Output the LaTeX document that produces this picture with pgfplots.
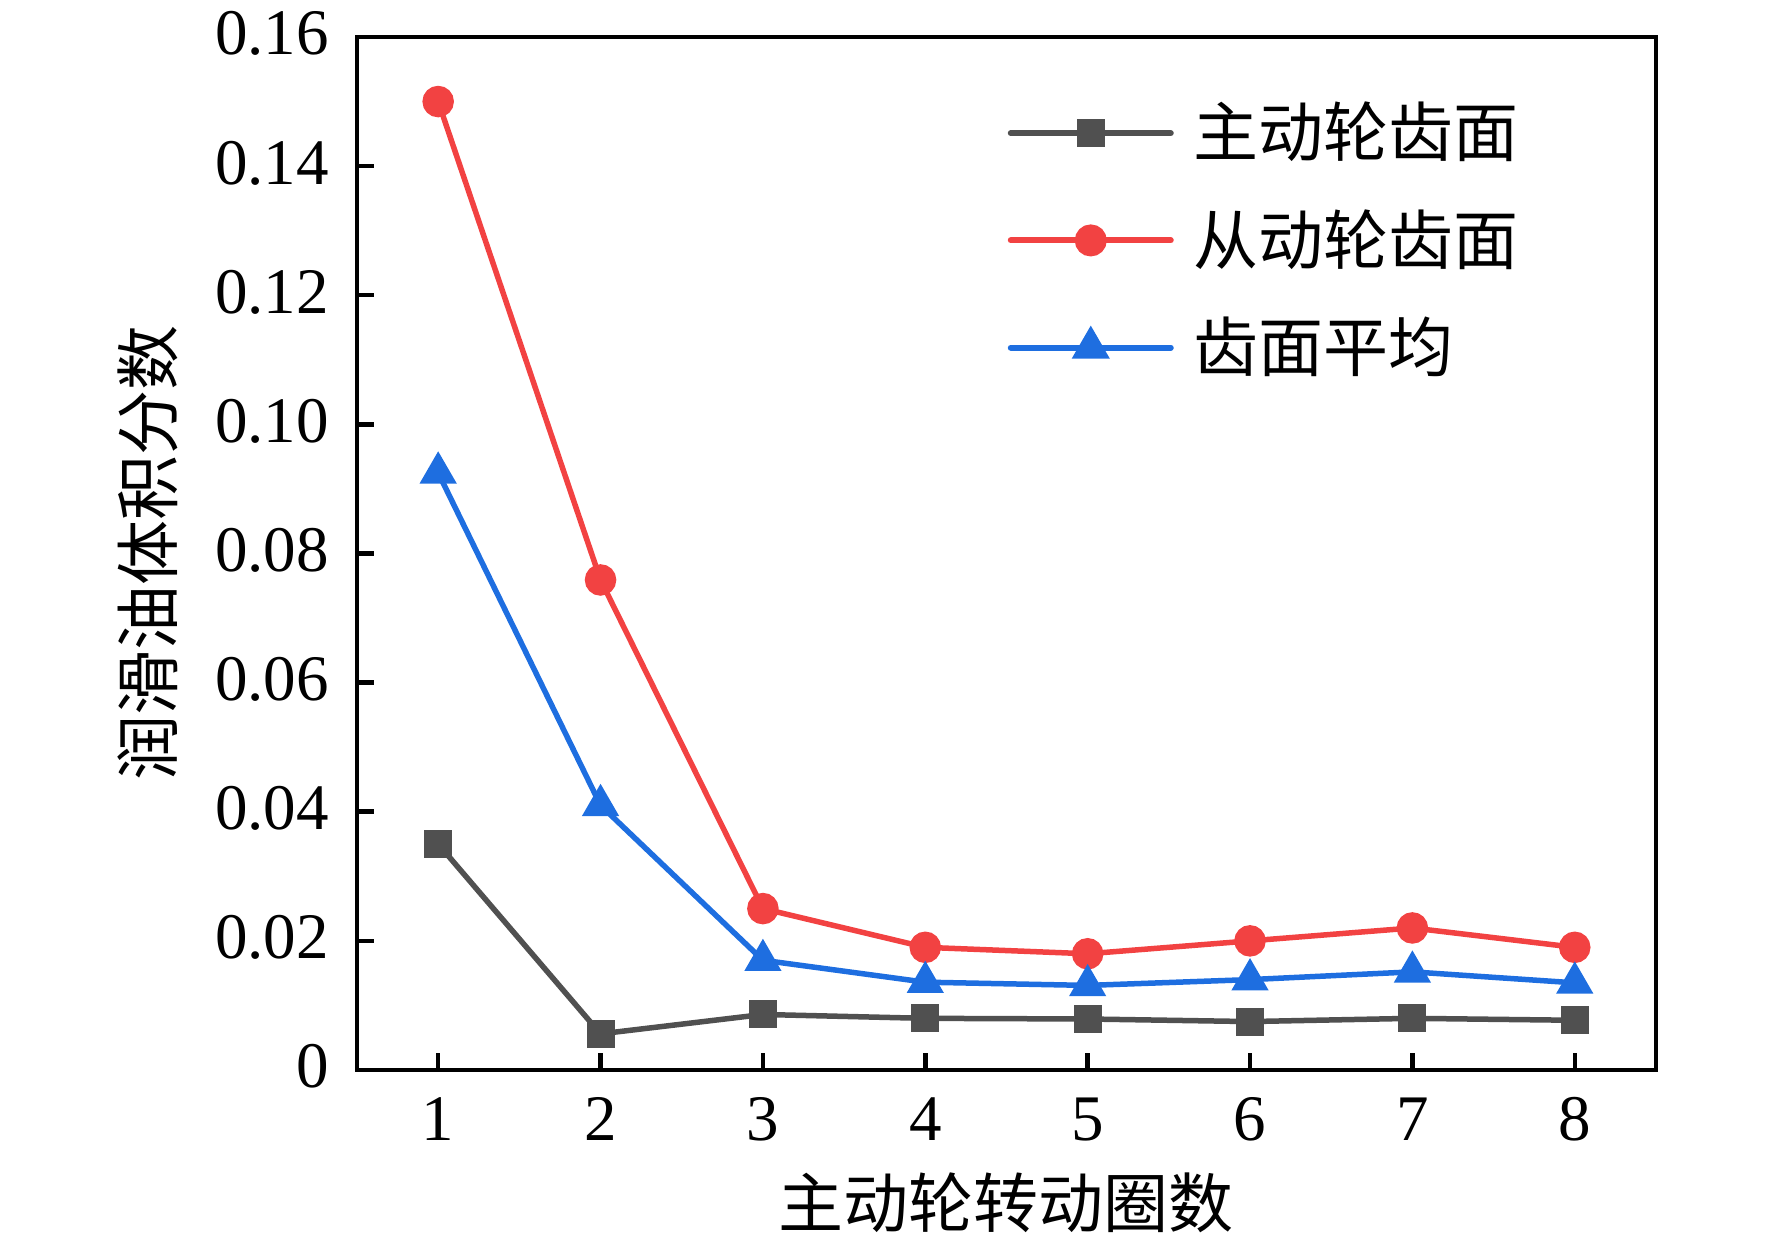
\documentclass[border=0pt]{standalone}
\usepackage{pgfplots}
\pgfplotsset{compat=1.18}
\usepackage{fontspec}
\setmainfont{Liberation Serif}
\newfontfamily\cjk{Noto Sans CJK SC}
\definecolor{cgray}{RGB}{80,80,80}
\definecolor{cred}{RGB}{242,66,66}
\definecolor{cblue}{RGB}{30,110,224}
\begin{document}
\begin{tikzpicture}
\path[use as bounding box] (-71.4pt,-35.2pt) rectangle (283pt,214pt);
\begin{axis}[
  scale only axis,
  width=259.8pt, height=206.6pt,
  at={(0,0)}, anchor=south west,
  xmin=0.5, xmax=8.5, ymin=0, ymax=0.16,
  xtick={1,2,3,4,5,6,7,8},
  ytick={0,0.02,0.04,0.06,0.08,0.10,0.12,0.14,0.16},
  yticklabels={0,0.02,0.04,0.06,0.08,0.10,0.12,0.14,0.16},
  xticklabels={1,2,3,4,5,6,7,8},
  tick align=inside,
  xtick pos=bottom, ytick pos=left,
  major tick length=3.4pt,
  axis line style={line width=0.9pt},
  every tick/.style={line width=0.9pt, black},
  tick label style={font=\fontsize{13}{15}\selectfont, inner sep=0pt},
  xticklabel style={anchor=base, yshift=-14.2pt},
  yticklabel style={anchor=base east, xshift=-5.4pt, yshift=-3.6pt},
  xlabel={\cjk 主动轮转动圈数},
  ylabel={\cjk 润滑油体积分数},
  label style={font=\fontsize{13}{15}\selectfont, inner sep=0pt},
  xlabel style={at={(axis description cs:0.5,-0.1288)}, anchor=center},
  ylabel style={at={(axis description cs:-0.1609,0.5)}, anchor=center},
  legend style={draw=none, fill=none, inner sep=0pt, outer sep=0pt,
    at={(0.501,0.937)}, anchor=north west,
    font=\cjk\fontsize{13}{13}\selectfont,
    nodes={inner sep=0pt}, row sep=9.0pt,
    /tikz/every odd column/.append style={column sep=4.0pt}},
  legend cell align=left,
  legend image code/.code={
    \draw[line width=1.2pt, line cap=round, mark repeat=2, mark phase=2] plot coordinates {(0pt,0pt) (16pt,0pt) (32pt,0pt)};
  },
]
\addplot[cgray, line width=1.1pt, mark=square*, mark size=2.25pt, mark options={solid}] coordinates {
(1,0.035) (2,0.0056) (3,0.0086) (4,0.0080) (5,0.0079) (6,0.0075) (7,0.0080) (8,0.0077)};
\addlegendentry{主动轮齿面}
\addplot[cred, line width=1.1pt, mark=*, mark size=2.6pt, mark options={solid}] coordinates {
(1,0.150) (2,0.0759) (3,0.025) (4,0.019) (5,0.018) (6,0.020) (7,0.022) (8,0.019)};
\addlegendentry{从动轮齿面}
\addplot[cblue, line width=1.1pt, mark=triangle*, mark size=3.2pt, mark options={solid}] coordinates {
(1,0.0925) (2,0.041) (3,0.017) (4,0.0136) (5,0.0131) (6,0.0140) (7,0.0152) (8,0.0135)};
\addlegendentry{齿面平均}
\end{axis}
\end{tikzpicture}
\end{document}
